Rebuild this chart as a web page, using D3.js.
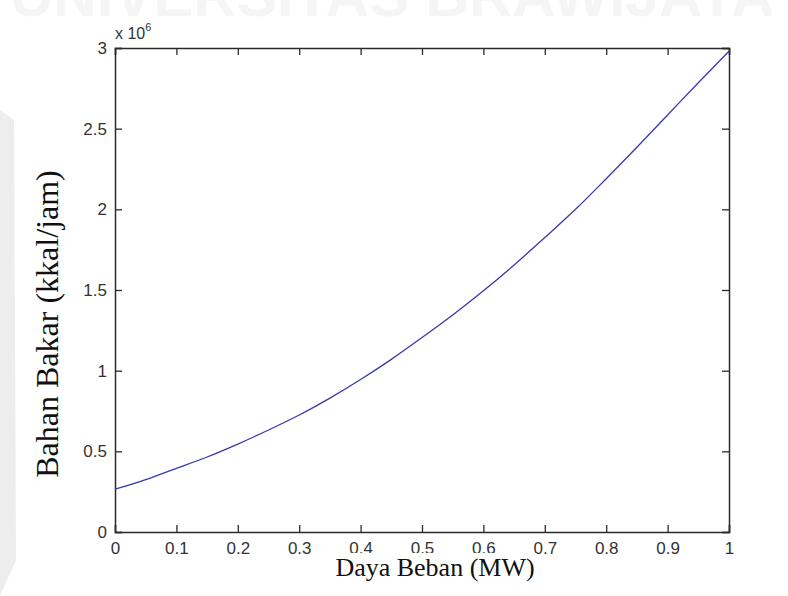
<!DOCTYPE html>
<html>
<head>
<meta charset="utf-8">
<script src="https://cdn.jsdelivr.net/npm/d3@7"></script>
<style>
  html, body { margin: 0; padding: 0; background: #fff; }
  svg { display: block; }
  .label { font-family: "Liberation Serif", "Times New Roman", serif; fill: #111; }
</style>
</head>
<body>
<div id="chart"></div>
<script>
// daya beban (MW) and bahan bakar (kkal/jam, x 10^6)
const power = [0, 0.05, 0.1, 0.15, 0.2, 0.25, 0.3, 0.35, 0.4, 0.45, 0.5, 0.55, 0.6, 0.65, 0.7, 0.75, 0.8, 0.85, 0.9, 0.95, 1];
const fuel = [0.265, 0.325, 0.395, 0.465, 0.545, 0.632, 0.725, 0.83, 0.945, 1.07, 1.205, 1.345, 1.495, 1.655, 1.825, 2.0, 2.19, 2.385, 2.585, 2.785, 2.98];
const xTicks = [0, 0.1, 0.2, 0.3, 0.4, 0.5, 0.6, 0.7, 0.8, 0.9, 1];
const yTicks = [0, 0.5, 1, 1.5, 2, 2.5, 3];

const W = 788, H = 596;
const margin = {top: 48, right: 59, bottom: 64, left: 115};
const width = W - margin.left - margin.right;
const height = H - margin.top - margin.bottom;

const svg = d3.select('#chart').append('svg').attr('width', W).attr('height', H);

// faint watermark
svg.append('text').attr('x', 10).attr('y', 16)
  .style('font-family', 'Liberation Sans').style('font-weight', 'bold').style('font-size', '60px')
  .style('fill', '#f5f5f5').text('UNIVERSITAS BRAWIJAYA');
svg.append('path').attr('d', 'M0,110 L14,120 L16,560 L0,596 Z').attr('fill', '#ededed');

const g = svg.append('g').attr('transform', `translate(${margin.left},${margin.top})`);
const x = d3.scaleLinear().domain([0, 1]).range([0, width]);
const y = d3.scaleLinear().domain([0, 3]).range([height, 0]);

const fmt = d => d3.format('~g')(d);
g.append('g').attr('class', 'axis').attr('transform', `translate(0,${height})`)
  .call(d3.axisBottom(x).tickValues(xTicks).tickSize(-7).tickPadding(10).tickFormat(fmt));
g.append('g').call(d3.axisTop(x).tickValues(xTicks).tickSize(-7).tickFormat(''));
g.append('g').attr('class', 'axis')
  .call(d3.axisLeft(y).tickValues(yTicks).tickSize(-7).tickPadding(8).tickFormat(fmt));
g.append('g').attr('transform', `translate(${width},0)`)
  .call(d3.axisRight(y).tickValues(yTicks).tickSize(-7).tickFormat(''));
g.selectAll('.domain').attr('stroke', '#2a2a2a').attr('stroke-width', 1.5);
g.selectAll('.tick line').attr('stroke', '#2a2a2a').attr('stroke-width', 1.3);
g.selectAll('.axis .tick text')
  .style('font-family', '"Liberation Sans", Arial, sans-serif')
  .style('font-size', '17px').style('fill', '#333');

const line = d3.line().x((d, i) => x(power[i])).y(d => y(d)).curve(d3.curveMonotoneX);
g.append('path').datum(fuel)
  .attr('fill', 'none').attr('stroke', '#3a38b0').attr('stroke-width', 1.3)
  .attr('d', line);

// exponent label
const ex = g.append('text').attr('x', 0).attr('y', -9)
  .style('font-family', '"Liberation Sans", sans-serif').style('font-size', '16px').style('fill', '#333');
ex.append('tspan').text('x 10');
ex.append('tspan').attr('dy', -8).style('font-size', '11px').text('6');

// x label with its white box, which hides the lower part of the middle tick labels
const xl = g.append('g').attr('transform', `translate(${width / 2 + 13},${height + 44})`);
const xt = xl.append('text').attr('class', 'label')
  .attr('text-anchor', 'middle').style('font-size', '26px')
  .text('Daya Beban (MW)');
const bb = xt.node().getBBox();
xl.insert('rect', 'text').attr('x', bb.x - 2).attr('y', -23).attr('width', bb.width + 4).attr('height', 30)
  .attr('fill', '#fff');

g.append('text').attr('class', 'label')
  .attr('transform', `translate(${-57},${height / 2 + 34}) rotate(-90)`)
  .attr('text-anchor', 'middle').style('font-size', '32px')
  .text('Bahan Bakar (kkal/jam)');
</script>
</body>
</html>
